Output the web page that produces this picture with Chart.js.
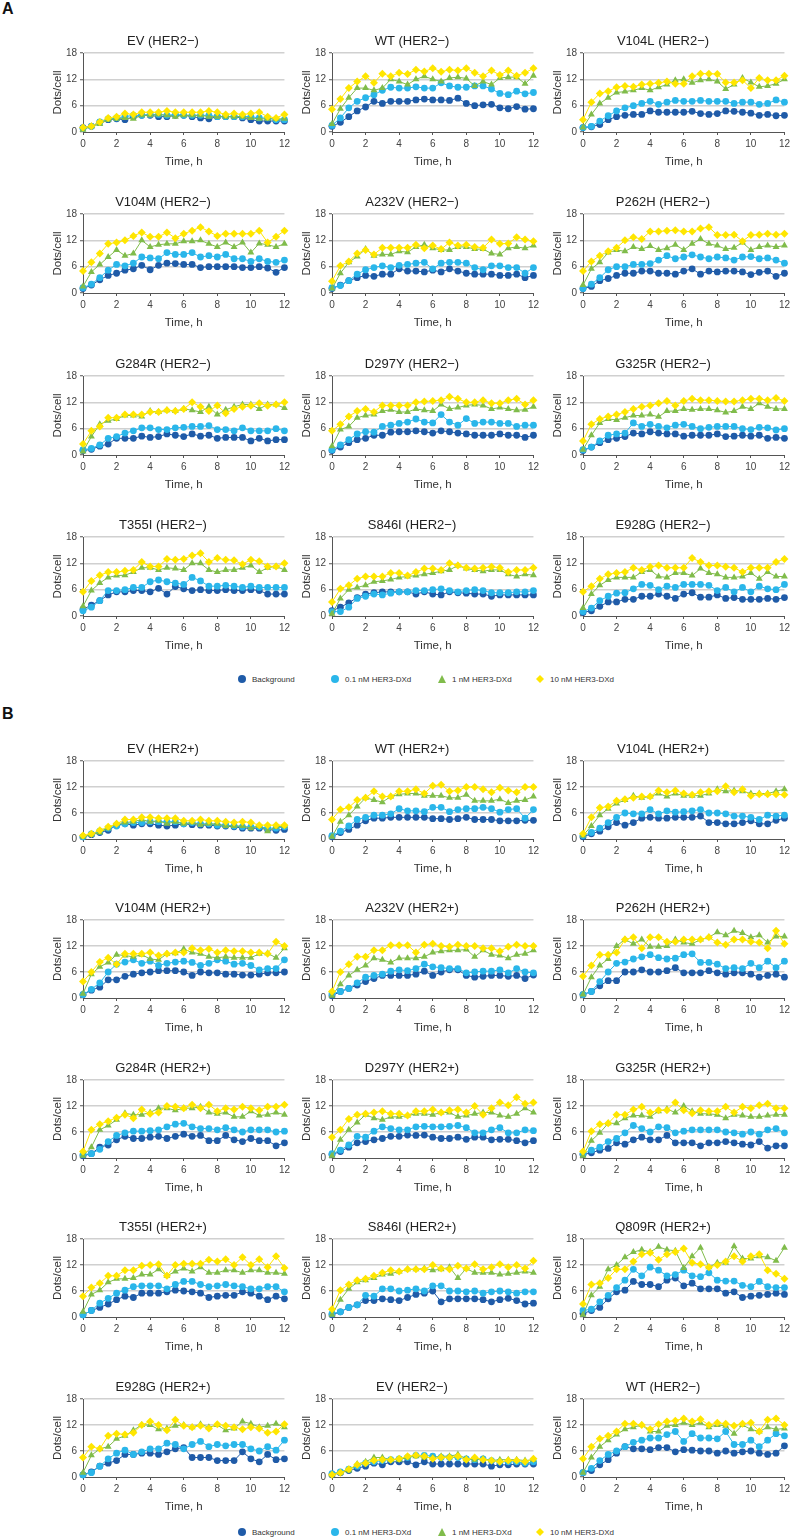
<!DOCTYPE html>
<html>
<head>
<meta charset="utf-8">
<script src="https://cdn.jsdelivr.net/npm/chart.js@4.4.1/dist/chart.umd.min.js"></script>
<style>
  html, body { margin: 0; padding: 0; background: #fff; }
  body { position: relative; width: 790px; height: 1537px; overflow: hidden; font-family: "Liberation Sans", Arial, sans-serif; }
  canvas { position: absolute; }
  .tag { position: absolute; left: 2px; font: bold 16px/16px "Liberation Sans", Arial, sans-serif; color: #111; }
  .legend { position: absolute; left: 0; width: 790px; height: 12px; }
  .item { position: absolute; top: 0; height: 12px; display: flex; align-items: center; font: 8px "Liberation Sans Narrow", "Liberation Sans", Arial, sans-serif; color: #333; white-space: nowrap; }
  .mk { width: 8px; height: 8px; margin-right: 6px; }
</style>
</head>
<body>
<div class="tag" style="top:1px">A</div>
<div class="tag" style="top:706px">B</div>
<div class="legend" id="legendA" style="top:673px"></div>
<div class="legend" id="legendB" style="top:1526px"></div>
<script>
const times = [0, 0.5, 1, 1.5, 2, 2.5, 3, 3.5, 4, 4.5, 5, 5.5, 6, 6.5, 7, 7.5, 8, 8.5, 9, 9.5, 10, 10.5, 11, 11.5, 12];
const seriesNames = ['Background', '0.1 nM HER3-DXd', '1 nM HER3-DXd', '10 nM HER3-DXd'];
const seriesColors = ['#1f5ba8', '#2ab6ea', '#80bc4b', '#ffe600'];
const seriesMarkers = ['circle', 'circle', 'triangle', 'rectRot'];
const xTicks = [0, 2, 4, 6, 8, 10, 12];
const yTicks = [0, 6, 12, 18];

// each panel: [background, 0.1 nM, 1 nM, 10 nM]
// A, HER2-
const evA = [
  [1.0,1.3,2.2,2.8,3.0, 2.8,3.5,3.8,3.8,3.5, 3.5,3.8,3.8,3.5,3.2, 3.0,3.5,3.5,3.5,3.2, 2.8,2.5,2.5,2.5,2.5],
  [0.8,1.3,2.3,3.0,3.2, 3.5,3.8,3.8,4.0,4.0, 3.8,4.0,3.8,3.8,3.8, 3.8,3.5,3.5,3.5,3.5, 3.5,3.2,3.2,2.8,2.8],
  [0.5,1.3,1.8,2.8,3.0, 3.2,3.0,3.8,3.8,4.0, 3.8,3.5,3.8,3.8,3.8, 3.5,3.5,3.5,3.5,3.5, 3.2,3.0,3.0,3.0,3.0],
  [1.0,1.3,2.3,3.2,3.5, 4.2,4.0,4.5,4.5,4.5, 4.8,4.5,4.5,4.5,4.5, 4.8,4.5,4.0,4.2,4.0, 4.2,4.5,3.5,3.2,4.0]
];
const wtA = [
  [1.3,2.2,3.5,4.8,5.7, 7.0,6.5,7.0,7.0,7.0, 7.3,7.5,7.3,7.3,7.2, 7.7,6.5,6.0,6.2,6.3, 5.5,5.3,5.8,5.2,5.3],
  [1.5,3.2,5.5,7.0,7.8, 8.5,9.5,10.2,10.0,10.0, 10.3,10.0,10.0,11.2,10.5, 10.2,10.2,10.5,10.5,9.8, 8.8,8.5,9.3,8.7,9.0],
  [1.8,5.3,7.8,10.0,10.0, 9.5,10.0,12.0,11.5,10.8, 12.0,12.7,12.0,11.5,12.3, 12.5,12.2,10.5,11.5,10.8, 12.3,12.5,12.5,11.0,12.8],
  [5.2,7.5,10.0,11.5,12.7, 11.2,13.3,12.7,13.5,13.2, 14.2,13.8,14.5,13.7,14.2, 14.0,14.5,13.5,12.7,14.0, 13.0,14.0,12.8,13.5,14.5]
];
const v104lA = [
  [1.0,1.2,1.7,2.8,3.5, 3.8,4.0,4.0,4.8,4.5, 4.5,4.5,4.5,4.7,4.2, 4.0,4.2,4.8,4.7,4.5, 4.3,3.8,4.0,3.7,3.8],
  [1.0,1.3,2.5,3.7,4.8, 5.5,6.0,6.5,7.0,6.3, 6.8,7.2,7.0,7.0,7.2, 7.0,7.0,7.0,6.5,6.8, 6.8,6.3,6.5,7.3,6.8],
  [1.0,4.0,6.5,7.8,9.0, 9.2,9.5,10.0,9.5,10.2, 10.8,11.8,12.0,11.2,11.8, 12.0,11.5,9.8,10.8,12.3, 11.3,10.3,10.5,11.0,12.0],
  [2.8,6.8,8.8,9.3,10.2, 10.5,10.3,10.8,11.0,11.2, 11.5,11.0,11.0,12.7,13.3, 13.3,13.2,11.3,11.3,11.8, 10.0,12.3,11.8,11.8,12.8]
];
const v104mA = [
  [1.0,1.8,3.0,4.0,4.5, 5.2,5.5,6.3,5.3,6.3, 6.8,6.7,6.5,6.5,5.8, 6.0,6.0,6.0,6.0,5.8, 5.8,6.0,5.7,4.7,5.8],
  [1.2,2.0,3.5,5.2,6.5, 6.2,6.8,8.2,8.0,7.8, 9.2,8.8,8.8,9.2,8.2, 8.5,8.2,8.8,7.8,7.8, 7.2,7.8,7.2,7.0,7.5],
  [1.5,4.8,6.5,8.2,9.8, 8.5,9.0,12.0,10.5,11.0, 11.2,11.2,11.8,11.8,12.0, 11.2,10.5,11.5,10.5,11.5, 9.2,11.3,11.0,10.5,11.2],
  [5.0,7.0,9.0,11.2,11.5, 12.0,13.0,13.8,12.8,12.8, 13.8,12.5,13.5,14.2,15.0, 14.0,13.0,13.5,13.5,13.5, 13.5,14.2,11.5,12.8,14.2]
];
const a232vA = [
  [1.0,1.8,2.8,3.5,4.0, 3.8,4.3,4.3,5.5,5.0, 5.0,4.8,5.2,4.8,5.5, 5.0,4.5,4.3,4.3,4.3, 4.0,4.0,4.3,3.5,4.0],
  [1.2,1.7,2.8,4.3,5.3, 5.8,6.2,5.8,6.3,6.5, 6.8,7.0,5.5,6.8,7.0, 7.0,6.8,5.8,5.3,6.2, 6.2,5.8,5.8,4.5,5.8],
  [1.0,4.5,7.0,8.3,10.0, 8.5,8.8,8.8,9.5,9.3, 10.5,11.0,10.2,9.8,9.8, 10.5,10.5,10.0,10.0,9.0, 8.8,10.2,10.5,10.2,10.8],
  [2.7,6.2,7.2,9.0,9.8, 8.8,10.3,10.3,10.3,10.3, 11.0,10.2,10.8,10.0,11.5, 10.8,11.0,10.5,10.3,12.2, 11.2,11.3,12.7,12.2,11.8]
];
const p262hA = [
  [1.0,1.5,2.8,3.3,4.0, 4.5,4.5,5.0,5.0,4.5, 4.5,4.3,5.0,5.5,4.3, 5.0,4.8,5.0,5.0,4.8, 4.2,4.7,5.0,3.8,4.5],
  [1.0,2.0,3.5,5.3,6.0, 6.0,6.5,6.5,6.7,7.5, 8.5,7.8,8.2,8.7,8.2, 7.8,8.2,8.0,7.5,8.2, 8.3,7.8,8.0,7.5,6.8],
  [1.8,5.5,7.0,9.2,9.8, 9.5,10.5,10.0,10.7,9.8, 10.2,11.0,9.8,11.2,12.3, 11.2,10.8,10.0,10.3,11.5, 9.8,10.5,10.8,10.5,10.8],
  [5.0,7.2,8.5,9.5,10.3, 12.0,12.7,12.3,14.0,14.0, 14.2,14.3,14.0,14.0,14.7, 15.0,13.2,13.2,13.3,11.8, 13.2,13.3,13.5,13.3,13.5]
];
const g284rA = [
  [1.0,1.3,2.0,2.5,3.8, 3.8,3.8,4.3,4.0,4.2, 4.8,4.5,4.2,4.8,4.3, 4.5,3.8,4.0,4.0,4.0, 3.2,3.8,3.2,3.5,3.5],
  [1.2,1.5,2.3,3.8,4.2, 5.0,5.5,6.2,6.2,5.8, 5.8,6.2,6.3,6.5,6.5, 6.7,5.8,5.8,5.5,6.2, 5.5,5.5,5.5,6.0,5.5],
  [0.8,4.2,7.0,7.8,8.2, 9.0,9.0,8.8,10.0,9.8, 10.2,10.0,10.5,10.2,9.8, 11.0,9.2,10.3,11.0,11.5, 11.5,10.5,11.5,11.5,10.7],
  [2.5,5.5,6.5,8.5,8.5, 9.2,9.2,9.2,9.8,9.8, 10.2,10.0,10.5,12.0,11.0, 10.0,11.3,9.5,10.5,11.0, 11.2,11.8,11.2,11.5,12.0]
];
const d297yA = [
  [1.0,1.8,2.8,3.5,3.8, 4.5,4.5,5.2,5.3,5.3, 5.5,5.3,5.0,5.5,5.3, 5.0,4.8,4.5,4.5,4.5, 4.8,4.5,4.5,4.0,4.5],
  [1.2,2.3,3.5,4.8,5.3, 5.2,6.5,6.8,7.2,7.5, 8.2,7.5,7.3,9.2,7.5, 6.8,8.3,7.2,7.5,7.5, 7.2,7.2,6.5,6.8,6.8],
  [2.0,5.8,6.5,8.5,9.0, 9.2,10.0,10.3,9.8,9.8, 10.5,10.2,10.0,11.5,10.5, 10.8,11.3,11.5,11.3,10.5, 10.8,10.5,10.2,10.3,11.0],
  [5.5,7.0,8.8,10.0,10.5, 9.8,11.3,11.3,11.3,11.3, 12.0,12.2,12.3,12.5,13.3, 12.8,12.0,12.0,12.5,11.8, 11.8,12.5,12.8,11.5,12.5]
];
const g325rA = [
  [1.0,1.8,2.8,3.5,3.8, 4.2,5.0,4.8,5.3,5.0, 4.8,4.8,4.3,4.5,4.5, 4.5,4.8,4.2,4.3,4.5, 4.3,4.5,3.8,4.0,3.8],
  [1.2,1.8,3.2,4.5,4.8, 5.0,7.3,6.5,7.0,6.5, 6.2,6.8,7.0,6.5,6.0, 6.3,6.5,6.5,6.5,6.0, 5.8,6.3,6.2,5.7,6.0],
  [1.2,4.5,7.3,8.2,8.0, 8.5,9.0,9.0,9.2,8.7, 10.0,10.0,10.5,10.3,10.5, 10.5,10.2,9.7,10.0,11.0, 10.5,11.8,11.0,10.5,10.5],
  [3.2,7.0,8.2,8.8,9.2, 9.8,10.5,11.0,11.3,11.8, 12.3,11.3,12.3,12.8,12.5, 12.5,12.3,12.2,12.2,12.5, 12.8,12.8,12.5,13.0,12.3]
];
const t355iA = [
  [1.5,2.5,3.5,4.8,5.5, 5.5,5.8,5.8,5.5,6.3, 5.0,6.7,6.2,5.8,6.0, 5.8,5.8,6.0,5.8,5.8, 6.0,5.8,5.0,5.0,5.0],
  [1.2,2.0,3.5,5.8,5.8, 6.0,6.5,6.5,7.8,8.2, 7.8,7.5,7.2,8.8,8.0, 6.8,6.8,7.0,6.8,6.5, 6.8,6.5,6.5,6.5,6.5],
  [2.2,5.8,7.5,8.8,9.2, 9.3,10.0,11.0,11.0,10.5, 11.0,10.8,10.5,12.0,12.0, 10.5,10.0,10.5,10.5,11.0, 11.5,10.0,11.0,11.3,10.5],
  [5.5,8.0,9.3,10.0,10.0, 10.3,10.5,12.3,11.3,11.3, 13.0,12.8,13.0,13.8,14.3, 12.3,13.2,12.8,12.7,11.8, 12.8,12.5,11.3,11.3,12.0]
];
const s846iA = [
  [1.2,2.0,3.0,4.2,5.0, 5.3,5.5,5.5,5.5,5.5, 5.0,5.5,5.0,4.8,5.5, 5.3,5.2,5.0,5.0,4.5, 4.8,4.8,4.8,4.8,4.8],
  [1.0,1.0,2.0,4.0,4.5, 5.0,4.8,5.2,5.5,5.5, 5.8,5.8,6.0,6.2,5.8, 5.5,5.8,6.0,5.8,5.3, 5.3,5.3,5.5,5.5,5.8],
  [0.5,4.0,6.0,6.5,7.0, 7.8,8.0,8.3,8.8,9.0, 9.2,9.5,9.8,10.2,10.5, 11.5,10.8,10.5,10.2,10.5, 10.5,9.5,9.0,9.5,9.3],
  [3.2,6.2,7.0,8.5,9.0, 9.0,9.0,9.8,9.8,9.2, 10.0,10.8,10.8,10.5,12.0, 11.5,11.0,10.8,11.0,11.2, 11.0,10.0,10.5,10.5,11.0]
];
const e928gA = [
  [0.8,1.2,2.2,3.2,3.2, 3.8,3.8,4.5,4.5,5.0, 4.5,4.0,5.0,5.3,4.3, 4.3,4.8,4.0,4.2,3.8, 3.8,3.8,4.0,3.8,4.2],
  [1.0,1.8,3.5,4.5,5.2, 5.3,6.2,7.2,7.0,6.0, 6.8,6.5,7.2,7.2,7.2, 7.0,5.8,6.5,5.5,6.5, 5.5,6.8,6.2,6.0,7.2],
  [1.8,5.0,7.0,8.2,8.8, 8.8,8.8,10.0,10.5,9.0, 8.8,9.8,9.8,9.2,10.8, 9.8,9.5,8.8,8.8,9.0, 9.8,8.5,10.0,9.0,9.0],
  [5.5,6.8,8.5,9.5,9.8, 10.0,11.0,10.5,11.2,11.5, 11.0,11.0,11.0,13.2,12.3, 11.5,11.5,11.2,11.0,10.0, 11.0,11.0,11.0,12.3,13.0]
];

// B, HER2+ (plus two HER2- controls)
const evB = [
  [0.5,1.0,1.5,2.0,3.2, 3.5,3.2,3.5,3.5,3.2, 3.0,3.2,3.5,3.3,3.2, 3.2,3.0,3.0,2.8,2.5, 2.5,2.5,2.2,2.0,2.2],
  [0.5,1.2,1.8,2.5,3.0, 3.5,3.8,3.8,4.0,4.0, 4.0,4.0,3.5,3.8,3.5, 3.5,3.2,3.2,3.0,2.8, 2.8,2.8,2.5,2.5,2.8],
  [0.5,1.0,1.5,2.5,3.5, 3.8,4.0,4.5,4.0,4.2, 3.5,4.0,3.5,3.8,3.3, 3.5,3.5,3.0,3.0,3.0, 2.5,3.0,1.8,2.8,3.0],
  [0.8,1.2,2.0,2.8,3.5, 4.5,4.5,5.0,5.0,4.8, 4.8,4.8,4.2,4.2,4.5, 4.2,4.2,4.0,3.8,4.0, 3.8,3.2,3.2,3.2,3.2]
];
const wtB = [
  [0.5,1.5,2.2,3.2,4.2, 4.8,4.8,5.0,5.0,5.0, 5.0,5.0,4.7,4.7,4.5, 4.7,5.0,4.5,4.5,4.5, 4.2,4.2,4.2,4.3,4.3],
  [0.8,1.8,3.0,4.5,5.0, 5.5,5.5,5.8,7.0,6.5, 6.5,6.3,7.3,7.3,6.3, 6.8,7.0,7.0,7.3,7.0, 6.2,6.8,7.0,4.8,6.8],
  [0.5,4.0,5.5,7.5,9.5, 9.0,8.5,9.8,10.3,10.5, 10.5,10.0,10.0,10.0,9.5, 9.5,10.2,8.8,8.8,8.8, 9.2,8.3,8.8,9.0,9.8],
  [4.5,6.8,7.3,9.0,9.5, 11.0,9.8,9.8,11.0,11.0, 11.5,10.5,12.3,12.5,11.0, 11.2,12.0,12.0,11.5,10.8, 11.8,11.2,10.8,12.0,12.0]
];
const v104lB = [
  [0.5,1.2,1.8,2.8,3.8, 3.2,3.8,4.8,5.0,4.8, 4.8,5.0,5.0,5.0,5.3, 3.8,3.8,3.5,3.5,3.8, 4.2,3.5,3.5,4.3,4.8],
  [0.8,1.5,2.5,3.8,5.0, 6.0,5.8,5.8,6.8,5.8, 6.5,6.2,6.3,6.5,6.8, 6.0,6.0,5.8,5.3,5.3, 5.0,4.5,5.5,5.3,5.5],
  [0.8,3.0,5.5,7.0,8.2, 9.0,10.0,9.5,9.8,10.5, 9.8,10.5,10.0,10.0,10.0, 10.5,11.5,11.0,11.2,11.0, 10.5,10.5,10.5,11.0,11.5],
  [1.2,5.0,7.2,7.5,8.8, 9.2,9.5,9.8,9.8,11.2, 10.8,11.2,10.5,10.2,10.8, 11.0,11.0,12.2,10.8,11.5, 10.0,10.3,10.3,10.3,10.2]
];
const v104mB = [
  [0.8,1.8,2.5,4.2,4.2, 5.0,5.5,5.8,6.0,6.3, 6.3,6.3,6.0,5.2,6.0, 5.8,5.8,5.5,5.5,5.3, 5.3,5.5,5.8,5.8,6.0],
  [0.8,2.0,3.5,6.0,7.8, 8.3,8.8,8.0,8.5,7.5, 8.0,8.3,8.5,8.2,7.5, 8.0,8.8,8.5,7.8,8.0, 7.5,6.5,6.8,6.8,8.8],
  [1.0,5.5,7.2,8.2,10.0, 9.8,9.5,10.0,9.0,8.8, 10.2,10.3,11.3,10.5,10.2, 9.5,9.3,9.5,9.3,9.3, 9.3,10.2,10.3,9.3,11.5],
  [3.8,6.0,8.3,9.3,7.8, 10.2,10.2,10.2,10.5,9.8, 10.2,10.5,10.5,11.5,11.0, 11.3,10.5,11.0,10.8,10.8, 10.5,10.5,10.2,13.0,12.0]
];
const a232vB = [
  [0.5,1.5,2.2,3.0,3.8, 4.5,5.2,5.2,5.2,5.2, 5.5,6.2,5.2,6.0,6.5, 6.5,5.2,4.8,5.0,5.2, 5.2,5.0,5.2,4.5,5.3],
  [1.0,1.5,2.2,3.5,4.8, 5.2,5.5,6.2,6.5,6.3, 6.8,7.8,7.2,7.0,6.8, 6.8,5.8,6.0,6.2,6.2, 6.5,5.8,6.8,6.0,5.8],
  [0.5,3.2,5.2,6.5,7.5, 9.2,8.8,8.2,9.2,9.2, 9.2,9.5,10.5,10.8,11.0, 11.0,11.2,9.5,11.0,10.0, 9.8,9.2,10.0,10.2,11.0],
  [1.5,6.0,7.8,9.5,9.5, 11.0,11.0,12.2,12.2,12.2, 10.5,12.3,12.5,12.0,11.8, 12.3,12.0,12.0,11.5,11.5, 10.8,11.8,12.3,12.0,12.0]
];
const p262hB = [
  [0.8,1.5,2.8,4.0,4.0, 6.0,6.0,6.5,6.0,6.0, 6.3,7.0,5.8,5.8,5.8, 6.3,5.8,5.5,5.8,5.8, 5.5,4.8,5.2,5.5,4.8],
  [0.8,1.5,3.8,6.0,8.0, 8.3,9.0,9.5,10.0,9.3, 9.0,9.2,10.0,10.2,8.2, 8.2,7.8,6.8,7.0,6.8, 8.0,7.0,8.5,7.0,8.5],
  [0.8,4.8,7.5,9.0,12.0, 13.5,12.5,13.5,11.8,11.8, 12.0,13.5,12.8,12.5,13.5, 14.0,15.2,14.5,15.5,15.0, 14.0,14.5,12.8,14.2,14.2],
  [5.0,7.5,10.0,10.0,10.5, 13.5,14.0,11.5,14.0,14.0, 13.0,13.0,13.5,13.5,13.5, 14.0,12.8,12.3,13.5,13.5, 13.0,12.8,11.5,15.5,12.5]
];
const g284rB = [
  [0.5,1.0,2.5,3.0,4.2, 5.0,4.5,4.5,4.8,5.0, 4.5,5.0,5.5,5.0,5.2, 4.0,4.0,5.2,4.2,3.8, 4.5,4.0,4.0,2.8,3.5],
  [0.8,1.0,2.0,3.8,5.2, 5.8,6.2,6.2,6.3,6.5, 7.2,7.8,8.0,7.2,6.8, 6.8,6.5,7.0,6.5,6.0, 6.5,6.5,6.5,6.0,6.2],
  [0.5,2.5,6.5,7.5,8.8, 10.3,10.0,10.0,10.5,11.5, 11.5,11.0,11.5,11.5,11.8, 10.5,10.2,10.5,9.5,9.5, 10.8,9.8,10.0,10.5,10.0],
  [1.5,6.5,7.8,8.5,9.3, 10.0,9.2,11.2,10.2,10.5, 12.0,11.8,11.5,12.3,11.5, 12.3,10.8,11.5,11.2,11.8, 11.5,11.0,11.8,11.8,12.3]
];
const d297yB = [
  [0.8,1.5,2.5,3.5,3.8, 4.2,4.5,5.0,5.0,5.3, 5.2,5.3,4.8,4.5,4.5, 4.8,4.3,4.8,4.8,4.2, 4.3,4.3,4.0,3.5,4.0],
  [1.0,1.8,3.0,5.0,4.8, 6.2,7.2,6.8,6.5,6.5, 7.2,7.3,7.2,7.2,7.3, 7.5,7.0,5.8,5.8,6.5, 7.0,5.8,5.8,6.5,6.3],
  [0.5,4.2,6.5,8.2,10.0, 9.2,8.8,9.5,9.5,9.8, 10.2,10.2,10.0,10.5,10.5, 9.5,9.8,10.2,10.5,10.5, 9.8,9.5,10.2,11.5,10.5],
  [4.8,6.5,9.0,10.0,10.2, 10.5,10.8,10.2,10.2,9.8, 10.8,10.8,11.2,10.5,11.0, 11.2,10.5,12.0,10.0,11.5, 12.8,12.2,14.0,12.5,12.8]
];
const g325rB = [
  [0.8,1.2,1.8,2.2,3.5, 3.2,4.2,4.8,4.2,4.2, 5.2,3.5,3.5,3.5,2.8, 3.5,3.5,3.8,3.5,3.2, 3.0,3.8,2.3,2.8,2.8],
  [1.0,1.8,2.5,3.8,4.5, 5.8,7.5,6.8,6.0,7.2, 7.0,5.8,6.2,6.5,6.5, 6.5,6.5,6.0,5.8,5.5, 6.0,5.5,6.5,6.8,5.8],
  [0.5,4.0,5.8,8.0,8.0, 9.2,9.8,9.8,9.5,10.8, 11.3,10.5,12.0,10.8,10.2, 10.2,10.0,9.2,10.0,9.8, 9.5,9.5,9.8,10.0,10.0],
  [1.5,6.2,7.8,8.0,10.0, 10.0,11.2,11.8,10.5,11.0, 11.0,12.8,11.0,10.3,11.0, 10.8,10.8,11.8,10.5,11.8, 11.5,12.2,12.5,11.5,11.5]
];
const t355iB = [
  [0.5,1.5,2.2,3.0,4.0, 4.8,4.5,5.5,5.5,5.5, 5.8,6.2,6.0,5.8,5.5, 4.5,4.8,5.0,5.0,5.8, 5.5,4.8,4.0,4.8,4.2],
  [0.5,1.5,3.2,4.3,5.5, 6.2,7.0,7.2,7.2,7.2, 6.5,7.5,8.2,8.2,7.5, 7.0,7.2,7.5,7.2,7.0, 6.5,6.5,7.0,7.0,5.8],
  [1.2,5.2,6.2,8.0,8.8, 8.8,9.0,9.8,9.8,11.0, 9.5,10.5,11.2,10.5,11.5, 10.2,10.2,10.8,10.8,10.2, 10.8,10.8,10.2,10.2,10.0],
  [4.8,6.8,7.8,9.5,9.5, 10.8,10.8,11.8,12.0,12.2, 9.5,12.0,12.3,12.3,12.3, 13.2,12.8,13.3,12.0,13.8, 12.0,13.3,11.5,14.0,11.3]
];
const s846iB = [
  [0.5,1.2,2.2,2.8,3.8, 3.8,4.2,4.0,3.8,4.5, 5.2,5.5,6.0,3.5,4.2, 4.2,4.2,4.2,4.0,3.5, 4.0,4.3,3.8,3.0,3.2],
  [0.8,1.2,2.2,2.8,5.0, 4.8,6.5,6.5,6.0,6.2, 6.5,6.0,7.2,7.2,6.0, 6.0,5.8,6.0,5.5,5.8, 6.0,5.8,5.5,5.8,5.8],
  [0.5,4.0,6.5,8.0,8.5, 9.0,9.8,10.0,10.5,11.0, 11.0,11.2,10.8,11.0,11.5, 9.0,11.2,10.2,10.2,10.2, 9.8,10.0,10.2,10.5,10.2],
  [1.8,6.2,7.5,8.5,8.8, 9.5,10.2,10.8,10.5,11.0, 11.0,11.0,12.0,11.2,11.0, 11.8,11.2,12.2,11.0,11.5, 12.2,11.5,12.0,11.2,13.0]
];
const q809rB = [
  [0.8,1.5,2.2,4.2,5.8, 6.2,8.2,7.5,7.5,7.0, 8.5,9.0,7.2,7.8,6.5, 6.5,6.5,5.5,5.8,4.5, 4.8,5.0,5.2,5.5,5.2],
  [1.5,1.8,3.5,5.0,6.8, 8.5,11.0,9.5,11.5,10.8, 9.5,9.8,10.8,9.5,9.3, 10.2,8.5,8.3,8.3,7.3, 7.0,8.2,7.0,6.8,6.8],
  [0.5,5.0,7.0,11.0,12.0, 13.8,15.0,15.5,15.0,16.2, 15.5,15.3,11.3,14.0,16.0, 11.5,12.5,12.5,16.3,13.5, 13.5,14.0,13.8,13.0,16.0],
  [3.0,7.5,7.8,9.0,11.0, 11.0,12.8,14.5,14.8,13.2, 14.5,15.0,15.8,12.5,12.2, 11.5,12.0,12.8,14.0,12.8, 14.0,14.5,10.8,10.0,8.8]
];
const e928gB = [
  [0.5,1.2,2.5,3.2,3.8, 5.2,5.2,5.5,5.5,5.2, 5.8,6.5,6.8,4.5,4.5, 4.5,3.8,3.8,3.8,5.8, 4.2,3.5,5.2,4.0,4.2],
  [0.5,1.0,2.5,4.2,5.5, 6.2,5.2,5.8,6.5,6.5, 7.8,7.5,6.5,7.5,8.2, 7.0,7.5,7.2,7.5,7.5, 6.5,6.0,7.0,6.2,8.5],
  [1.0,5.0,6.5,7.0,8.8, 9.5,10.8,12.0,12.0,11.0, 11.2,11.8,12.0,11.5,12.2, 11.5,12.0,10.8,11.2,12.8, 12.3,11.5,11.8,12.3,11.5],
  [4.5,7.0,6.5,9.5,10.0, 9.8,10.2,12.0,12.8,12.0, 10.8,13.2,11.8,11.5,11.8, 11.2,12.2,11.8,11.5,11.0, 11.5,11.2,10.2,10.5,12.2]
];
const evNegB = [
  [0.5,1.0,1.5,2.0,2.5, 3.2,2.8,3.5,3.5,3.5, 2.8,3.5,3.0,3.0,3.0, 3.0,3.0,3.0,3.0,2.5, 2.8,2.8,3.0,3.0,3.0],
  [0.8,1.2,1.8,2.5,3.2, 3.5,3.8,4.0,4.2,4.5, 5.0,5.0,4.8,4.5,4.5, 4.5,4.2,4.0,4.2,3.8, 3.5,3.5,3.5,3.2,3.5],
  [0.5,1.0,1.5,3.0,3.5, 4.5,4.5,4.0,4.0,4.5, 4.8,4.5,4.5,4.8,4.8, 5.2,4.2,4.0,4.2,3.8, 4.0,4.0,4.0,3.8,4.0],
  [0.5,1.0,1.8,2.8,3.2, 3.8,4.0,4.0,4.2,4.8, 5.0,4.8,4.2,4.5,4.5, 4.8,4.0,4.5,4.0,3.8, 3.5,3.8,3.8,3.5,4.2]
];
const wtNegB = [
  [1.0,1.5,2.8,4.0,5.5, 7.0,6.5,6.5,6.3,6.8, 6.8,5.8,6.3,6.2,6.0, 6.0,5.5,6.0,5.5,5.8, 6.0,5.5,5.2,5.5,7.2],
  [1.0,2.0,3.8,5.2,6.0, 7.0,8.0,8.5,9.0,9.0, 9.8,10.5,8.2,10.0,9.0, 9.0,8.8,10.5,7.5,7.5, 8.5,7.0,8.5,10.0,9.5],
  [1.0,4.5,7.0,8.5,9.8, 11.0,11.5,12.0,10.5,10.5, 11.8,12.0,12.5,12.0,12.5, 11.5,12.0,11.8,10.0,12.0, 11.0,10.5,11.5,11.0,11.2],
  [4.2,7.0,8.8,9.5,10.5, 12.3,12.3,12.0,11.0,12.2, 12.8,13.0,13.5,12.8,13.3, 12.0,12.5,12.3,11.8,12.3, 12.5,10.5,13.2,13.5,12.0]
];

const panelsA = [
  ['EV (HER2\u2212)', evA], ['WT (HER2\u2212)', wtA], ['V104L (HER2\u2212)', v104lA],
  ['V104M (HER2\u2212)', v104mA], ['A232V (HER2\u2212)', a232vA], ['P262H (HER2\u2212)', p262hA],
  ['G284R (HER2\u2212)', g284rA], ['D297Y (HER2\u2212)', d297yA], ['G325R (HER2\u2212)', g325rA],
  ['T355I (HER2\u2212)', t355iA], ['S846I (HER2\u2212)', s846iA], ['E928G (HER2\u2212)', e928gA]
];
const panelsB = [
  ['EV (HER2+)', evB], ['WT (HER2+)', wtB], ['V104L (HER2+)', v104lB],
  ['V104M (HER2+)', v104mB], ['A232V (HER2+)', a232vB], ['P262H (HER2+)', p262hB],
  ['G284R (HER2+)', g284rB], ['D297Y (HER2+)', d297yB], ['G325R (HER2+)', g325rB],
  ['T355I (HER2+)', t355iB], ['S846I (HER2+)', s846iB], ['Q809R (HER2+)', q809rB],
  ['E928G (HER2+)', e928gB], ['EV (HER2\u2212)', evNegB], ['WT (HER2\u2212)', wtNegB]
];

const FONT = '"Liberation Sans", Arial, sans-serif';
const colX = [83, 332, 583];   // y-axis position of each column
const PLOT_W = 202;
const Y_W = 42, X_H = 40, TOP = 28;

function makePanel(title, series, axisX, y18, plotH) {
  const cv = document.createElement('canvas');
  const w = Y_W + PLOT_W + 8;
  const h = TOP + plotH + X_H + 2;
  cv.width = w; cv.height = h;
  cv.style.left = (axisX - Y_W) + 'px';
  cv.style.top = (y18 - TOP) + 'px';
  document.body.appendChild(cv);

  new Chart(cv.getContext('2d'), {
    type: 'line',
    data: {
      datasets: series.map((vals, i) => ({
        label: seriesNames[i],
        data: times.map((t, j) => ({ x: t, y: vals[j] })),
        borderColor: seriesColors[i],
        backgroundColor: seriesColors[i],
        borderWidth: 1,
        pointStyle: seriesMarkers[i],
        pointRadius: i >= 2 ? 4 : 3.4,
        pointBorderWidth: 0,
        pointHoverRadius: 4,
        tension: 0,
        clip: false,
        order: 4 - i
      }))
    },
    options: {
      responsive: false,
      animation: false,
      devicePixelRatio: 1,
      events: [],
      layout: { padding: { top: 6, right: 8, bottom: 2, left: 0 } },
      plugins: {
        legend: { display: false },
        tooltip: { enabled: false },
        title: {
          display: true,
          text: title,
          color: '#222',
          font: { family: FONT, size: 13, weight: 'normal' },
          padding: { top: 3, bottom: 3.4 }
        }
      },
      scales: {
        x: {
          type: 'linear',
          min: 0, max: 12,
          afterFit: s => { s.height = X_H; },
          afterBuildTicks: s => { s.ticks = xTicks.map(v => ({ value: v })); },
          grid: { drawOnChartArea: false, drawTicks: true, tickLength: 3, tickColor: '#555' },
          border: { color: '#555', width: 1 },
          ticks: { color: '#444', padding: 3, font: { family: FONT, size: 10 }, maxRotation: 0 },
          title: { display: true, text: 'Time, h', color: '#333', padding: { top: 0, bottom: 3 }, font: { family: FONT, size: 11.5 } }
        },
        y: {
          min: 0, max: 18,
          afterFit: s => { s.width = Y_W; },
          afterBuildTicks: s => { s.ticks = yTicks.map(v => ({ value: v })); },
          grid: {
            color: c => (c.tick && c.tick.value === 0) ? 'rgba(0,0,0,0)' : '#d0d0d0',
            lineWidth: 1.5,
            drawTicks: true, tickLength: 3, tickColor: '#555', tickWidth: 1
          },
          border: { color: '#555', width: 1 },
          ticks: { color: '#444', padding: 3, font: { family: FONT, size: 10 } },
          title: { display: true, text: 'Dots/cell', color: '#333', padding: { top: 10, bottom: 0 }, font: { family: FONT, size: 11.5 } }
        }
      }
    }
  });
}

const rowsA = [53, 214, 376, 537];
const rowsB = [761, 920, 1080, 1239, 1399];
panelsA.forEach((p, k) => makePanel(p[0], p[1], colX[k % 3], rowsA[Math.floor(k / 3)], 79));
panelsB.forEach((p, k) => makePanel(p[0], p[1], colX[k % 3], rowsB[Math.floor(k / 3)], 78));

// legends
const legendLeft = [238, 331, 438, 536];
const markerCss = [
  'border-radius:50%',
  'border-radius:50%',
  'clip-path:polygon(50% 0,100% 100%,0 100%)',
  'clip-path:polygon(50% 0,100% 50%,50% 100%,0 50%)'
];
['legendA', 'legendB'].forEach(id => {
  const box = document.getElementById(id);
  seriesNames.forEach((name, i) => {
    const it = document.createElement('div');
    it.className = 'item';
    it.style.left = legendLeft[i] + 'px';
    it.innerHTML = '<span class="mk" style="background:' + seriesColors[i] + ';' + markerCss[i] + '"></span><span>' + name + '</span>';
    box.appendChild(it);
  });
});
</script>
</body>
</html>
